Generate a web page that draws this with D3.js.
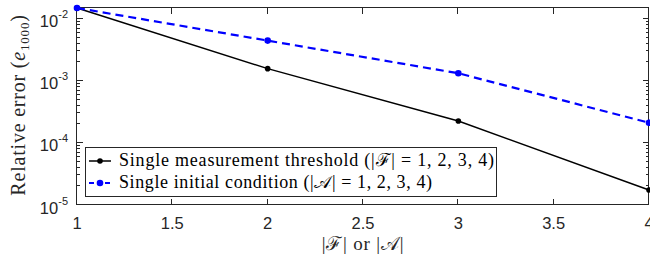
<!DOCTYPE html>
<html>
<head>
<meta charset="utf-8">
<script src="https://cdn.jsdelivr.net/npm/d3@7"></script>
<style>
  body { margin: 0; background: #fff; }
  svg { display: block; }
</style>
</head>
<body>
<svg id="chart" width="650" height="259"></svg>
<script>
// data
var xs = [1, 2, 3, 4];
var thresholdErr = [0.015, 0.00158, 0.000226, 0.0000175];
var initialErr = [0.015, 0.00447, 0.00133, 0.000212];
var xTicks = [1, 1.5, 2, 2.5, 3, 3.5, 4];
var yTicks = [-2, -3, -4, -5];
var legendLabels = [
  "Single measurement threshold (|\u2131| = 1, 2, 3, 4)",
  "Single initial condition (|\ud835\udc9c| = 1, 2, 3, 4)"
];
var legendWidths = [375, 313];

var svg = d3.select("#chart");
var mLeft = 77, mRight = 649, mTop = 8, mBottom = 205;

var x = d3.scaleLinear().domain([1, 4]).range([mLeft, mRight]);
var y = d3.scaleLog().domain([1e-5, 0.015]).range([mBottom, mTop]);

var tickFont = "'Liberation Sans', Arial, sans-serif";
var serif = "'Liberation Serif', 'DejaVu Serif', serif";

// x ticks, bottom and top
xTicks.forEach(function(t) {
  var px = Math.round(x(t)) - 0.5;
  svg.append("line").attr("x1", px).attr("x2", px).attr("y1", mBottom).attr("y2", mBottom - 6)
    .attr("stroke", "#262626");
  svg.append("line").attr("x1", px).attr("x2", px).attr("y1", mTop).attr("y2", mTop + 6)
    .attr("stroke", "#262626");
  svg.append("text").attr("x", x(t)).attr("y", 229)
    .attr("text-anchor", "middle").attr("font-family", tickFont).attr("font-size", 16.5)
    .attr("fill", "#262626").text(d3.format("")(t));
});

// y ticks, major + minor on both sides
for (var e = -5; e <= -2; e++) {
  for (var m = 1; m <= 9; m++) {
    var v = m * Math.pow(10, e);
    if (v > 0.015) continue;
    var py = Math.round(y(v)) - 0.5;
    var len = m === 1 ? 6 : 3;
    svg.append("line").attr("x1", mLeft).attr("x2", mLeft + len).attr("y1", py).attr("y2", py)
      .attr("stroke", "#262626");
    svg.append("line").attr("x1", mRight).attr("x2", mRight - len).attr("y1", py).attr("y2", py)
      .attr("stroke", "#262626");
  }
}
yTicks.forEach(function(t) {
  var tx = svg.append("text").attr("x", 68).attr("y", y(Math.pow(10, t)) + 8.5)
    .attr("text-anchor", "end").attr("font-family", tickFont).attr("font-size", 16.5)
    .attr("fill", "#262626");
  tx.append("tspan").text("10");
  tx.append("tspan").attr("dy", -9).attr("font-size", 11).text(String(t));
});

// box
svg.append("rect")
  .attr("x", mLeft - 0.5).attr("y", mTop - 0.5)
  .attr("width", mRight - mLeft).attr("height", mBottom - mTop)
  .attr("fill", "none").attr("stroke", "#262626").attr("stroke-width", 1);

// y label
var yl = svg.append("text")
  .attr("transform", "translate(25," + 105 + ") rotate(-90)")
  .attr("text-anchor", "middle").attr("font-family", serif).attr("font-size", 20)
  .attr("letter-spacing", 0.8)
  .attr("fill", "#262626");
yl.append("tspan").text("Relative error (");
yl.append("tspan").attr("font-style", "italic").text("e");
yl.append("tspan").attr("font-size", 13).attr("dy", 4).text("1000");
yl.append("tspan").attr("dy", -4).text(")");

// x label
svg.append("text").attr("x", 363).attr("y", 250)
  .attr("text-anchor", "middle").attr("font-family", serif).attr("font-size", 19)
  .attr("letter-spacing", 0.8)
  .attr("fill", "#262626").text("|\u2131| or |\ud835\udc9c|");

// lines
var line = d3.line().x(function(d, i) { return x(xs[i]); }).y(function(d) { return y(d); });

svg.append("path").datum(thresholdErr).attr("d", line)
  .attr("fill", "none").attr("stroke", "#000").attr("stroke-width", 1.5);
svg.selectAll(".ptA").data(thresholdErr).enter().append("circle")
  .attr("cx", function(d, i) { return x(xs[i]); }).attr("cy", function(d) { return y(d); })
  .attr("r", 2.8).attr("fill", "#000");

svg.append("path").datum(initialErr).attr("d", line)
  .attr("fill", "none").attr("stroke", "#0000ff").attr("stroke-width", 2.2)
  .attr("stroke-dasharray", "8,5");
svg.selectAll(".ptB").data(initialErr).enter().append("circle")
  .attr("cx", function(d, i) { return x(xs[i]); }).attr("cy", function(d) { return y(d); })
  .attr("r", 3.3).attr("fill", "#0000ff");

// legend
var lg = svg.append("g");
lg.append("rect").attr("x", 85.5).attr("y", 147.5).attr("width", 411).attr("height", 49)
  .attr("fill", "#fff").attr("stroke", "#262626").attr("stroke-width", 1);
var legendStyles = [
  { color: "#000", dash: null, width: 1.5, r: 2.8 },
  { color: "#0000ff", dash: "5,3", width: 2, r: 3.3 }
];
legendLabels.forEach(function(lbl, i) {
  var ly = 161 + i * 22;
  var s = legendStyles[i];
  lg.append("line").attr("x1", 89).attr("x2", 111).attr("y1", ly).attr("y2", ly)
    .attr("stroke", s.color).attr("stroke-width", s.width).attr("stroke-dasharray", s.dash);
  lg.append("circle").attr("cx", 100).attr("cy", ly).attr("r", s.r).attr("fill", s.color);
  lg.append("text").attr("x", 119).attr("y", ly + 5)
    .attr("font-family", serif).attr("font-size", 18).attr("fill", "#000")
    .attr("textLength", legendWidths[i]).attr("lengthAdjust", "spacing").text(lbl);
});
</script>
</body>
</html>
